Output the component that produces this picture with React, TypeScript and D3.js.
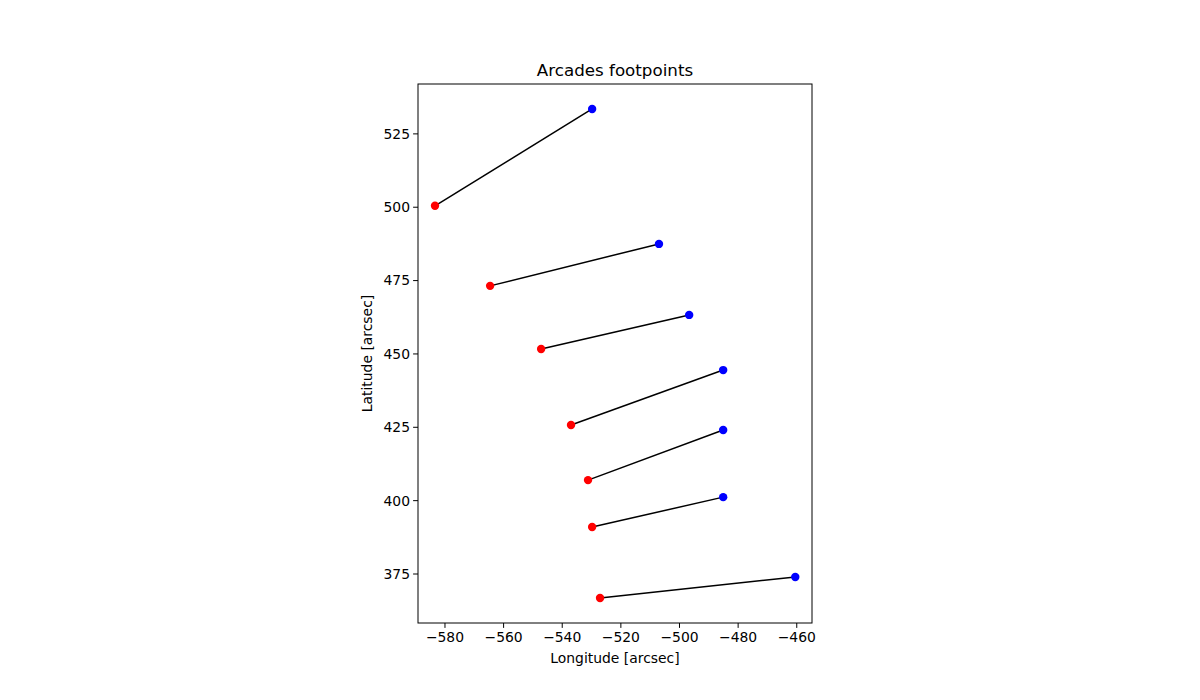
import React from "react";
import * as d3 from "d3";

const redX = [-583.4, -564.6, -547.2, -537.0, -531.2, -529.8, -527.1];
const redY = [500.5, 473.2, 451.7, 425.8, 407.0, 391.0, 366.8];
const blueX = [-529.8, -507.0, -496.7, -485.1, -485.1, -485.1, -460.5];
const blueY = [533.5, 487.5, 463.3, 444.5, 424.1, 401.2, 374.0];
const xTicks = [-580, -560, -540, -520, -500, -480, -460];
const yTicks = [375, 400, 425, 450, 475, 500, 525];

export default function App() {
  const L = 418, R = 812, T = 84, B = 623;
  const x = d3.scaleLinear().domain([-589.2, -454.8]).range([L, R]);
  const y = d3.scaleLinear().domain([358.3, 542.0]).range([B, T]);
  const font = "DejaVu Sans";
  const fmt = (v: number) => (v < 0 ? "\u2212" + Math.abs(v) : String(v));
  return (
    <svg width={1200} height={700} style={{ position: "absolute", left: 0, top: 0 }} fontFamily={font}>
      <rect width={1200} height={700} fill="white" />
      {redX.map((_, i) => (
        <line key={"l" + i} x1={x(redX[i])} y1={y(redY[i])} x2={x(blueX[i])} y2={y(blueY[i])} stroke="black" strokeWidth={1.5} />
      ))}
      {redX.map((v, i) => (
        <circle key={"r" + i} cx={x(v)} cy={y(redY[i])} r={4.2} fill="red" />
      ))}
      {blueX.map((v, i) => (
        <circle key={"b" + i} cx={x(v)} cy={y(blueY[i])} r={4.2} fill="blue" />
      ))}
      <rect x={L} y={T} width={R - L} height={B - T} fill="none" stroke="black" strokeWidth={1} />
      {xTicks.map((t) => (
        <g key={"x" + t}>
          <line x1={x(t)} x2={x(t)} y1={B} y2={B + 4.9} stroke="black" />
          <text x={x(t)} y={B + 19} textAnchor="middle" fontSize={13.9}>{fmt(t)}</text>
        </g>
      ))}
      {yTicks.map((t) => (
        <g key={"y" + t}>
          <line x1={L - 4.9} x2={L} y1={y(t)} y2={y(t)} stroke="black" />
          <text x={L - 8} y={y(t)} dy="0.35em" textAnchor="end" fontSize={13.9}>{fmt(t)}</text>
        </g>
      ))}
      <text x={(L + R) / 2} y={663} textAnchor="middle" fontSize={13.9}>Longitude [arcsec]</text>
      <text transform={`translate(372,${(T + B) / 2}) rotate(-90)`} textAnchor="middle" fontSize={13.9}>Latitude [arcsec]</text>
      <text x={(L + R) / 2} y={76} textAnchor="middle" fontSize={16.7}>Arcades footpoints</text>
    </svg>
  );
}
